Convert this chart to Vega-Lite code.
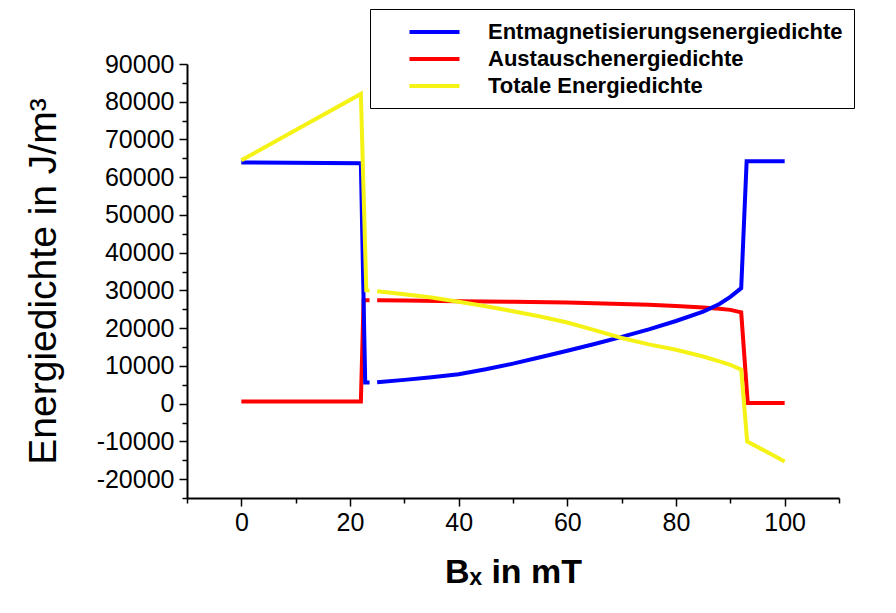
{
  "$schema": "https://vega.github.io/schema/vega-lite/v6.json",
  "width": 652,
  "height": 434,
  "autosize": {"type": "none"},
  "padding": {"left": 187, "top": 64, "right": 57, "bottom": 115},
  "background": "white",
  "data": {
    "values": [
      {"B": 0, "E": 600, "s": "Austauschenergiedichte"},
      {"B": 22, "E": 600, "s": "Austauschenergiedichte"},
      {"B": 22.5, "E": 27400, "s": "Austauschenergiedichte"},
      {"B": 23.6, "E": 27400, "s": "Austauschenergiedichte"},
      {"B": 24.2, "E": null, "s": "Austauschenergiedichte"},
      {"B": 25, "E": 27370, "s": "Austauschenergiedichte"},
      {"B": 30, "E": 27300, "s": "Austauschenergiedichte"},
      {"B": 40, "E": 27150, "s": "Austauschenergiedichte"},
      {"B": 50, "E": 27000, "s": "Austauschenergiedichte"},
      {"B": 60, "E": 26800, "s": "Austauschenergiedichte"},
      {"B": 70, "E": 26400, "s": "Austauschenergiedichte"},
      {"B": 75, "E": 26200, "s": "Austauschenergiedichte"},
      {"B": 80, "E": 25900, "s": "Austauschenergiedichte"},
      {"B": 85, "E": 25500, "s": "Austauschenergiedichte"},
      {"B": 88, "E": 25150, "s": "Austauschenergiedichte"},
      {"B": 90, "E": 24850, "s": "Austauschenergiedichte"},
      {"B": 92, "E": 24200, "s": "Austauschenergiedichte"},
      {"B": 93.2, "E": 200, "s": "Austauschenergiedichte"},
      {"B": 100, "E": 150, "s": "Austauschenergiedichte"},

      {"B": 0, "E": 63900, "s": "Entmagnetisierungsenergiedichte"},
      {"B": 22, "E": 63700, "s": "Entmagnetisierungsenergiedichte"},
      {"B": 22.8, "E": 5600, "s": "Entmagnetisierungsenergiedichte"},
      {"B": 23.6, "E": 5600, "s": "Entmagnetisierungsenergiedichte"},
      {"B": 24.2, "E": null, "s": "Entmagnetisierungsenergiedichte"},
      {"B": 25, "E": 5650, "s": "Entmagnetisierungsenergiedichte"},
      {"B": 30, "E": 6300, "s": "Entmagnetisierungsenergiedichte"},
      {"B": 35, "E": 7000, "s": "Entmagnetisierungsenergiedichte"},
      {"B": 40, "E": 7800, "s": "Entmagnetisierungsenergiedichte"},
      {"B": 45, "E": 9100, "s": "Entmagnetisierungsenergiedichte"},
      {"B": 50, "E": 10600, "s": "Entmagnetisierungsenergiedichte"},
      {"B": 55, "E": 12300, "s": "Entmagnetisierungsenergiedichte"},
      {"B": 60, "E": 14000, "s": "Entmagnetisierungsenergiedichte"},
      {"B": 65, "E": 15800, "s": "Entmagnetisierungsenergiedichte"},
      {"B": 70, "E": 17700, "s": "Entmagnetisierungsenergiedichte"},
      {"B": 75, "E": 19700, "s": "Entmagnetisierungsenergiedichte"},
      {"B": 80, "E": 21900, "s": "Entmagnetisierungsenergiedichte"},
      {"B": 85, "E": 24400, "s": "Entmagnetisierungsenergiedichte"},
      {"B": 88, "E": 26400, "s": "Entmagnetisierungsenergiedichte"},
      {"B": 90, "E": 28300, "s": "Entmagnetisierungsenergiedichte"},
      {"B": 92, "E": 30600, "s": "Entmagnetisierungsenergiedichte"},
      {"B": 93, "E": 64200, "s": "Entmagnetisierungsenergiedichte"},
      {"B": 100, "E": 64200, "s": "Entmagnetisierungsenergiedichte"},

      {"B": 0, "E": 64470, "s": "Totale Energiedichte"},
      {"B": 22, "E": 82060, "s": "Totale Energiedichte"},
      {"B": 23, "E": 30000, "s": "Totale Energiedichte"},
      {"B": 23.6, "E": 29950, "s": "Totale Energiedichte"},
      {"B": 24.2, "E": null, "s": "Totale Energiedichte"},
      {"B": 25, "E": 29760, "s": "Totale Energiedichte"},
      {"B": 30, "E": 29000, "s": "Totale Energiedichte"},
      {"B": 35, "E": 28100, "s": "Totale Energiedichte"},
      {"B": 40, "E": 27000, "s": "Totale Energiedichte"},
      {"B": 45, "E": 25800, "s": "Totale Energiedichte"},
      {"B": 50, "E": 24500, "s": "Totale Energiedichte"},
      {"B": 55, "E": 23100, "s": "Totale Energiedichte"},
      {"B": 60, "E": 21500, "s": "Totale Energiedichte"},
      {"B": 65, "E": 19500, "s": "Totale Energiedichte"},
      {"B": 70, "E": 17400, "s": "Totale Energiedichte"},
      {"B": 75, "E": 15700, "s": "Totale Energiedichte"},
      {"B": 80, "E": 14300, "s": "Totale Energiedichte"},
      {"B": 85, "E": 12500, "s": "Totale Energiedichte"},
      {"B": 88, "E": 11200, "s": "Totale Energiedichte"},
      {"B": 90, "E": 10300, "s": "Totale Energiedichte"},
      {"B": 92, "E": 9000, "s": "Totale Energiedichte"},
      {"B": 93.1, "E": -10000, "s": "Totale Energiedichte"},
      {"B": 100, "E": -15300, "s": "Totale Energiedichte"}
    ]
  },
  "mark": {"type": "line", "strokeWidth": 4, "invalid": "break-paths-filter-domains", "clip": false},
  "encoding": {
    "x": {
      "field": "B",
      "type": "quantitative",
      "scale": {"domain": [-10, 110], "nice": false, "zero": false},
      "axis": {
        "values": [-10, 0, 10, 20, 30, 40, 50, 60, 70, 80, 90, 100, 110],
        "labelExpr": "datum.value % 20 === 0 ? toString(datum.value) : ''",
        "tickSize": {"condition": {"test": "datum.value % 20 !== 0", "value": 5}, "value": 8},
        "labelPadding": 4,
        "title": "Bₓ in mT",
        "titleFontSize": 34,
        "titleFontWeight": "bold",
        "titlePadding": 20
      }
    },
    "y": {
      "field": "E",
      "type": "quantitative",
      "scale": {"domain": [-25000, 90000], "nice": false, "zero": false},
      "axis": {
        "values": [-25000, -20000, -15000, -10000, -5000, 0, 5000, 10000, 15000, 20000, 25000, 30000, 35000, 40000, 45000, 50000, 55000, 60000, 65000, 70000, 75000, 80000, 85000, 90000],
        "labelExpr": "datum.value % 10000 === 0 ? toString(datum.value) : ''",
        "tickSize": {"condition": {"test": "datum.value % 10000 !== 0", "value": 5}, "value": 8},
        "labelPadding": 5,
        "title": "Energiedichte in J/m³",
        "titleFontSize": 39,
        "titleFontWeight": "normal",
        "titlePadding": 33
      }
    },
    "color": {
      "field": "s",
      "type": "nominal",
      "scale": {
        "domain": ["Entmagnetisierungsenergiedichte", "Austauschenergiedichte", "Totale Energiedichte"],
        "range": ["#0000ff", "#ff0000", "#f5f215"]
      },
      "legend": {
        "orient": "none",
        "legendX": 183,
        "legendY": -55,
        "title": null,
        "symbolType": "M-2.5,0L2.5,0",
        "symbolStrokeWidth": 4,
        "symbolSize": 400,
        "symbolOffset": 41.5,
        "labelOffset": 41.5,
        "labelFont": "Liberation Sans",
        "labelFontSize": 22,
        "labelFontWeight": "bold",
        "labelColor": "black",
        "labelLimit": 0,
        "rowPadding": 4,
        "padding": 11,
        "strokeColor": "black",
        "fillColor": "white"
      }
    }
  },
  "config": {
    "view": {"stroke": null},
    "font": "Liberation Sans",
    "axis": {
      "grid": false,
      "domainColor": "black",
      "domainWidth": 2,
      "tickColor": "black",
      "tickWidth": 1.5,
      "labelFont": "Liberation Sans",
      "labelFontSize": 25,
      "labelColor": "black",
      "labelFlush": false,
      "labelOverlap": false,
      "titleFont": "Liberation Sans",
      "titleColor": "black"
    }
  }
}
